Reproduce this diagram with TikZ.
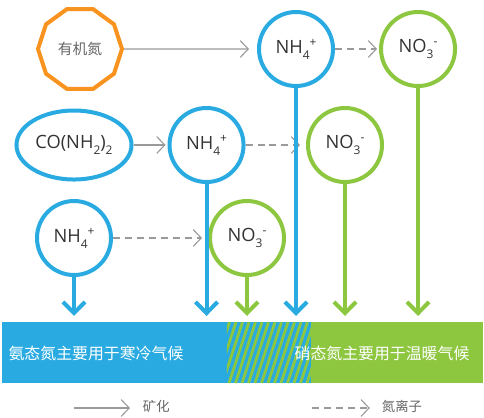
\documentclass[tikz,border=0pt]{standalone}
\usepackage{fontspec}
\setmainfont{Open Sans}
\newfontfamily\cjk{Noto Sans CJK SC}
\usetikzlibrary{shapes.geometric,arrows.meta,positioning}
\definecolor{nblue}{HTML}{29ABE2}
\definecolor{ngreen}{HTML}{8DC63F}
\definecolor{norange}{HTML}{F7931E}
\definecolor{ngray}{HTML}{9A9A9A}
\newcommand{\lo}[1]{\raisebox{-4.2pt}{\fontsize{8.5}{9}\selectfont #1}}
\newcommand{\hi}[1]{\raisebox{5pt}{\fontsize{8.5}{9}\selectfont #1}}
\tikzset{
    x=0.025cm, y=-0.025cm,
    ionnode/.style ={circle, draw, line width=0.1cm, minimum size=1.85cm, inner sep=0pt,
        fill=white, text=black!80, font=\fontsize{13}{15}\selectfont},
    amm/.style = {ionnode, draw=nblue},
    nit/.style = {ionnode, draw=ngreen},
    urea/.style = {ellipse, draw=nblue, line width=0.1cm, minimum width=2.875cm,
        minimum height=1.725cm, inner sep=0pt, text=black!80, font=\fontsize{13}{15}\selectfont},
    org/.style = {regular polygon, regular polygon sides=10, draw=norange, line width=0.1cm,
        minimum size=2.1cm, inner sep=0pt, text=black!60, font=\cjk\fontsize{10.5}{12}\selectfont},
    bar/.style = {rectangle, minimum height=1.525cm, inner sep=0pt, outer sep=0pt},
    bartext/.style = {text=white, font=\cjk\fontsize{11.3}{13}\selectfont},
    legend/.style = {text=black!60, font=\cjk\fontsize{9.5}{11}\selectfont},
    mine/.style = {ngray, line width=0.8pt, -{Straight Barb[length=0.2cm, width=0.42cm]}, shorten >=0.05cm},
    ion/.style = {mine, dash pattern=on 5pt off 3.5pt},
    drop/.style = {line width=0.1cm, -{Straight Barb[length=0.28cm, width=0.55cm]}, shorten >=0.15cm}
}
\begin{document}
\begin{tikzpicture}
    \useasboundingbox (0,0) rectangle (484,417);

    % climate bar
    \node[bar, fill=nblue, minimum width=5.625cm] (cold) at (114.5,352.5) {};
    \node[bar, fill=nblue, minimum width=2.1cm] (mix) at (269,352.5) {};
    \node[bar, fill=ngreen, minimum width=4.3cm] (warm) at (397,352.5) {};
    \begin{scope}
        \clip (mix.south west) rectangle (mix.north east);
        \foreach \i in {-24,-17.5,...,90}
            \draw[ngreen, line width=0.07cm] (227+\i,383) -- ++(20,-61);
    \end{scope}
    \node[bartext] (tcold) at (96,353) {氨态氮主要用于寒冷气候};
    \node[bartext] (twarm) at (382,353) {硝态氮主要用于温暖气候};

    % nitrogen forms
    \node[org] (org) at (80,49) {有机氮};
    \node[amm] (nh1) at (296,49) {NH\lo{4}\hi{+}};
    \node[nit] (no1) [right=1.1cm of nh1] {NO\lo{3}\hi{-}};
    \node[urea] (urea) at (74,145) {CO(NH\lo{2})\lo{2}};
    \node[amm] (nh2) [right=0.85cm of urea] {NH\lo{4}\hi{+}};
    \node[nit] (no2) at (345,145) {NO\lo{3}\hi{-}};
    \node[amm] (nh3) at (74,238) {NH\lo{4}\hi{+}};
    \node[nit] (no3) at (247,238) {NO\lo{3}\hi{-}};

    \draw[mine, shorten >=0.2cm] (org) -- (nh1);
    \draw[ion] (nh1) -- (no1);
    \draw[mine] (urea) -- (nh2);
    \draw[ion, shorten >=0.15cm] (nh2) -- (no2);
    \draw[ion, shorten >=0.15cm] (nh3) -- (no3);

    \draw[drop, nblue] (nh3) -- (nh3 |- cold.north);
    \draw[drop, nblue] (nh2) -- (nh2 |- cold.north);
    \draw[drop, ngreen] (no3) -- (no3 |- mix.north);
    \draw[drop, nblue] (nh1) -- (nh1 |- mix.north);
    \draw[drop, ngreen] (no2) -- (no2 |- warm.north);
    \draw[drop, ngreen] (no1) -- (no1 |- warm.north);

    % legend
    \coordinate (k1) at (74,408);
    \node[legend, anchor=west] (kmin) at (138,406) {矿化};
    \draw[mine, shorten >=0.2cm] (k1) -- (k1 -| kmin.west);
    \coordinate (k2) at (312,408);
    \node[legend, anchor=west] (kion) at (377,406) {氮离子};
    \draw[ion, shorten >=0.18cm] (k2) -- (k2 -| kion.west);
\end{tikzpicture}
\end{document}
